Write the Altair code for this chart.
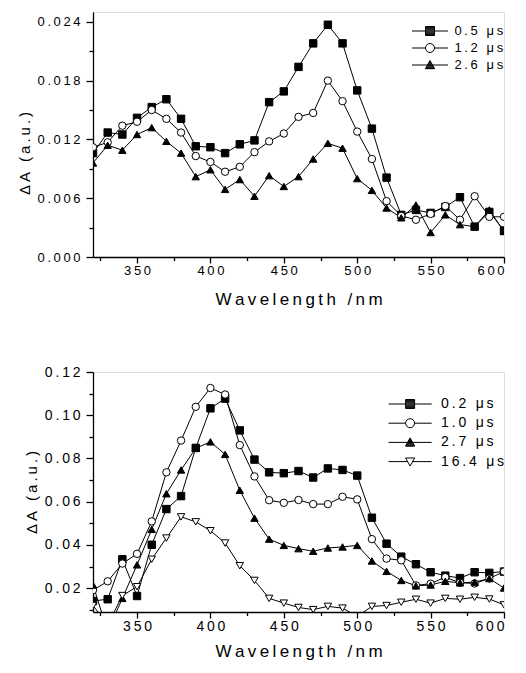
import altair as alt
import pandas as pd

# ---------------- data ----------------
wavelength = list(range(320, 601, 10))

top_series = ["0.5 μs", "1.2 μs", "2.6 μs"]
top_05 = [0.0106, 0.0127, 0.0125, 0.0142, 0.0153, 0.0161, 0.0141, 0.0113, 0.0112, 0.0106,
          0.0115, 0.0119, 0.0158, 0.0169, 0.0194, 0.0218, 0.0237, 0.0218, 0.0170, 0.0131,
          0.0081, 0.0043, 0.0048, 0.0045, 0.0051, 0.0061, 0.0031, 0.0046, 0.0027]
top_12 = [0.0112, 0.0117, 0.0134, 0.0138, 0.0150, 0.0141, 0.0127, 0.0103, 0.0097, 0.0087,
          0.0092, 0.0107, 0.0118, 0.0126, 0.0143, 0.0147, 0.0180, 0.0159, 0.0128, 0.0100,
          0.0057, 0.0042, 0.0038, 0.0044, 0.0052, 0.0038, 0.0062, 0.0041, 0.0041]
top_26 = [0.0096, 0.0114, 0.0109, 0.0125, 0.0132, 0.0118, 0.0106, 0.0082, 0.0089, 0.0069,
          0.0079, 0.0062, 0.0083, 0.0072, 0.0082, 0.0100, 0.0116, 0.0111, 0.0080, 0.0068,
          0.0050, 0.0040, 0.0053, 0.0025, 0.0043, 0.0033, 0.0031, 0.0048, 0.0026]

bot_series = ["0.2 μs", "1.0 μs", "2.7 μs", "16.4 μs"]
bot_02 = [0.0141, 0.0149, 0.0334, 0.0164, 0.0401, 0.0566, 0.0626, 0.0849, 0.1032, 0.1077,
          0.0930, 0.0795, 0.0736, 0.0732, 0.0742, 0.0712, 0.0754, 0.0747, 0.0721, 0.0526,
          0.0406, 0.0346, 0.0311, 0.0274, 0.0258, 0.0247, 0.0274, 0.0271, 0.0277]
bot_10 = [0.0191, 0.0232, 0.0314, 0.0359, 0.0509, 0.0736, 0.0883, 0.1039, 0.1126, 0.1096,
          0.0862, 0.0717, 0.0607, 0.0595, 0.0608, 0.0589, 0.0589, 0.0623, 0.0611, 0.0427,
          0.0337, 0.0329, 0.0213, 0.0221, 0.0251, 0.0225, 0.0222, 0.0245, 0.0277]
bot_27 = [0.0215, 0.0000, 0.0153, 0.0308, 0.0472, 0.0637, 0.0747, 0.0847, 0.0877, 0.0819,
          0.0653, 0.0524, 0.0427, 0.0398, 0.0383, 0.0371, 0.0386, 0.0391, 0.0398, 0.0326,
          0.0278, 0.0236, 0.0211, 0.0215, 0.0232, 0.0225, 0.0228, 0.0245, 0.0201]
bot_164 = [0.0120, 0.0030, 0.0166, 0.0207, 0.0334, 0.0432, 0.0530, 0.0507, 0.0466, 0.0409,
           0.0304, 0.0236, 0.0153, 0.0131, 0.0111, 0.0101, 0.0116, 0.0108, 0.0070, 0.0116,
           0.0120, 0.0135, 0.0149, 0.0131, 0.0153, 0.0149, 0.0158, 0.0150, 0.0123]

x_tick_values = [325, 350, 375, 400, 425, 450, 475, 500, 525, 550, 575, 600]
top_y_tick_values = [0.0, 0.003, 0.006, 0.009, 0.012, 0.015, 0.018, 0.021, 0.024]
bot_y_tick_values = [0.01, 0.02, 0.03, 0.04, 0.05, 0.06, 0.07, 0.08, 0.09, 0.10, 0.11, 0.12]

marker_shapes = ["square", "circle", "triangle-up", "triangle-down"]
marker_fills = ["black", "white", "black", "white"]

FONT = "Liberation Sans"
TS = "\u2009"  # thin space used for the letter-spaced look


def spaced(s):
    return TS.join(s)


def long_table(series_names, series_values):
    rows = []
    for name, vals in zip(series_names, series_values):
        for w, v in zip(wavelength, vals):
            rows.append({"wl": w, "v": v, "s": name})
    return pd.DataFrame(rows)


def _hatch_square():
    parts = []
    for i in range(-4, 5):
        y = i * 0.2
        parts.append(f"M-1,{y:.2f}H1")
    return "".join(parts)


def _hatch_triangle():
    parts = []
    for i in range(-4, 5):
        y = i * 0.2
        hw = (y + 1) / 1.8
        parts.append(f"M{-hw:.3f},{y:.2f}H{hw:.3f}")
    return "".join(parts)


def legend_paths(h):
    # line + marker glyphs for the legend (unit box, scaled by the symbol size)
    return [
        f"M-{h},0H-1M1,0H{h}M-1,-1H1V1H-1Z" + _hatch_square(),
        f"M-{h},0H-1M1,0H{h}M1,0A1,1,0,1,1,-1,0A1,1,0,1,1,1,0Z",
        f"M-{h},0H{h}M0,-1L1,0.8H-1Z" + _hatch_triangle(),
        f"M-{h},0H-0.556M0.556,0H{h}M0,1L1,-0.8H-1Z",
    ]


def spaced_label_expr(test):
    return f"({test}) ? join(split(datum.label, ''), '{TS}') : ''"


def panel(df, names, y_domain, y_ticks, y_fmt, y_major_test, lab_size, height,
          legend_x, legend_y, legend_font, legend_row_pad, h_units,
          sym_offset, lab_offset, title_pad, title_y=None):
    n = len(names)
    x_major = "datum.value % 50 == 0"
    x_enc = alt.X(
        "wl:Q",
        scale=alt.Scale(domain=[320, 600], nice=False, zero=False),
        axis=alt.Axis(
            values=x_tick_values,
            title=spaced("Wavelength") + TS + " " + TS + spaced("/nm"),
            labelExpr=spaced_label_expr(x_major),
            tickSize={"condition": {"test": x_major, "value": 6}, "value": 3.5},
            labelPadding=1.5, titlePadding=title_pad,
            grid=False, domainColor="black", domainWidth=1.3,
            tickColor="black", tickWidth=1.3,
            labelFont=FONT, labelFontSize=lab_size, labelColor="black",
            titleFont=FONT, titleFontSize=17, titleFontWeight="normal",
            titleColor="black",
        ),
    )
    y_axis_kwargs = dict(
        values=y_ticks,
        format=y_fmt,
        title=spaced("ΔA") + TS + " " + TS + spaced("(a.u.)"),
        labelExpr=spaced_label_expr(y_major_test),
        tickSize={"condition": {"test": y_major_test, "value": 7}, "value": 4},
        labelPadding=6, titlePadding=5,
        grid=False, domainColor="black", domainWidth=1.3,
        tickColor="black", tickWidth=1.3,
        labelFont=FONT, labelFontSize=lab_size, labelColor="black",
        titleFont=FONT, titleFontSize=15, titleFontWeight="normal",
        titleColor="black",
    )
    if title_y is not None:
        y_axis_kwargs["titleY"] = title_y
    y_enc = alt.Y(
        "v:Q",
        scale=alt.Scale(domain=y_domain, nice=False, zero=False),
        axis=alt.Axis(**y_axis_kwargs),
    )

    base = alt.Chart(df)
    lines = base.mark_line(color="black", strokeWidth=1, clip=True).encode(
        x=x_enc, y=y_enc, detail="s:N", order="wl:Q"
    )
    points = base.mark_point(stroke="black", strokeWidth=1, size=55, opacity=1,
                             clip=True).encode(
        x=x_enc, y=y_enc,
        shape=alt.Shape("s:N", scale=alt.Scale(domain=names, range=marker_shapes[:n]),
                        legend=None),
        fill=alt.Fill("s:N", scale=alt.Scale(domain=names, range=marker_fills[:n]),
                      legend=None),
    )
    leg = alt.Legend(
        title=None, orient="none", legendX=legend_x, legendY=legend_y,
        padding=0, symbolSize=81, symbolStrokeWidth=1,
        symbolOffset=sym_offset, labelOffset=lab_offset,
        rowPadding=legend_row_pad,
        labelFont=FONT, labelFontSize=legend_font, labelColor="black",
        labelExpr=f"join(split(datum.label, ''), '{TS}')",
    )
    hidden = base.mark_point(opacity=0, size=1, strokeWidth=1, clip=True).encode(
        x=x_enc, y=y_enc,
        shape=alt.Shape("s:N", scale=alt.Scale(domain=names, range=legend_paths(h_units)[:n]),
                        legend=leg),
        stroke=alt.Stroke("s:N", scale=alt.Scale(domain=names, range=["black"] * n),
                          legend=leg),
    )
    return alt.layer(lines, points, hidden).resolve_scale(
        shape="independent", fill="independent", stroke="independent"
    ).properties(width=411, height=height)


top_df = long_table(top_series, [top_05, top_12, top_26])
bot_df = long_table(bot_series, [bot_02, bot_10, bot_27, bot_164])

top = panel(top_df, top_series, [0, 0.025], top_y_tick_values, ".3f",
            "round(datum.value * 1000) % 6 == 0", 13, 245,
            310, 12.5, 13, 3.0, 4, 20.5, 18, 14, title_y=141)
bottom = panel(bot_df, bot_series, [0.009, 0.12], bot_y_tick_values, ".2f",
               "round(datum.value * 100) % 2 == 0", 14, 240,
               289, 25, 14, 5.2, 4.8, 21.1, 24, 10)

chart = alt.vconcat(top, bottom, spacing=56).properties(
    padding={"left": 8, "top": 3, "right": 0, "bottom": 0}
).configure_view(stroke=None).configure(background="white")

chart.save("out.html", embed_options={"renderer": "svg", "actions": False})
